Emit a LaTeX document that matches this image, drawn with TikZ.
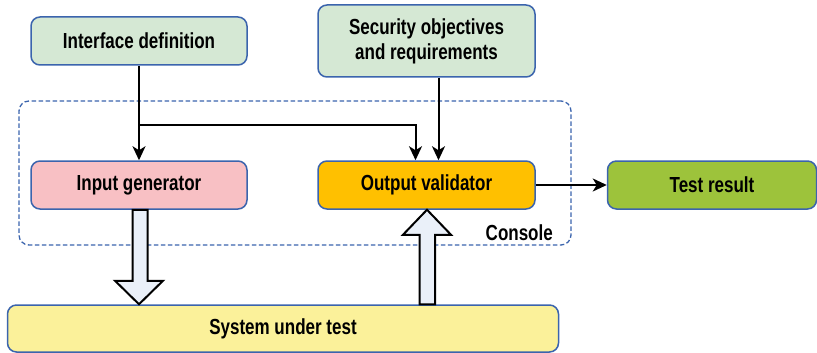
\documentclass[tikz,border=0pt]{standalone}
\usepackage{fontspec}
\setmainfont[FakeStretch=0.78]{Liberation Sans}
\usetikzlibrary{arrows.meta,calc}
\definecolor{bblue}{HTML}{3B64AD}
\definecolor{lgreen}{HTML}{D5E8D4}
\definecolor{lpink}{HTML}{F8C0C4}
\definecolor{orng}{HTML}{FFC000}
\definecolor{dgreen}{HTML}{9DC33B}
\definecolor{lyel}{HTML}{FBF19A}
\definecolor{hfill}{HTML}{EAF0F9}
\tikzset{
  txt/.style={font=\fontsize{21.8}{25}\selectfont\bfseries},
  box/.style={draw=bblue, line width=1.5pt, rounded corners=9pt, align=center,
    txt, inner sep=0pt},
  conn/.style={line width=2pt, -{Stealth[length=14pt,width=13pt,inset=4pt]}},
  hollow/.style={draw=black, line width=2pt, fill=hfill, line join=miter},
  consolebox/.style={draw=bblue, line width=1.3pt, dash pattern=on 4.5pt off 2.5pt, rounded corners=10pt}
}
\begin{document}
\begin{tikzpicture}[x=1pt,y=-1pt]
\useasboundingbox (0,0) rectangle (817,353);
\node[consolebox, minimum width=552pt, minimum height=144pt] (con) at (295,173) {};
\node[anchor=south east, txt, inner sep=0pt] (conlbl) at (553,241) {Console};
\node[box, fill=lgreen, minimum width=216pt, minimum height=48pt] (idf) at (139,41) {Interface definition};
\node[box, fill=lgreen, minimum width=217pt, minimum height=72pt] (sec) at (426.5,41) {Security objectives\\and requirements};
\node[box, fill=lpink, minimum width=216pt, minimum height=48pt] (ig) at (139,185) {Input generator};
\node[box, fill=orng, minimum width=217pt, minimum height=48pt] (ov) at (426.5,185) {Output validator};
\node[box, fill=dgreen, minimum width=209pt, minimum height=48pt] (tr) at (712,185) {Test result};
\node[box, fill=lyel, minimum width=551pt, minimum height=47pt] (sut) at (283,328.5) {System under test};
\coordinate (br) at (idf.south |- 0,125);
\draw[conn] (idf.south) -- (ig.north);
\draw[conn] (br) -| ([xshift=-11pt]ov.north);
\draw[conn] ([xshift=12pt]sec.south) -- ([xshift=12pt]ov.north);
\draw[conn] (ov.east) -- (tr.west);
% hollow down arrow
\draw[hollow] ($(ig.south)+(-6.5,0)$) -- ($(ig.south)+(-6.5,71)$) -- ($(ig.south)+(-24,71)$)
  -- (ig.south |- sut.north) -- ($(ig.south)+(24,71)$) -- ($(ig.south)+(8.5,71)$) -- ($(ig.south)+(8.5,0)$) -- cycle;
% hollow up arrow
\coordinate (up) at ([xshift=0.5pt]ov.south);
\draw[hollow] (up) -- ($(up)+(24,25)$) -- ($(up)+(8,25)$) -- ($(up |- sut.north)+(8,0)$)
  -- ($(up |- sut.north)+(-7.5,0)$) -- ($(up)+(-7.5,25)$) -- ($(up)+(-24,25)$) -- cycle;
\end{tikzpicture}
\end{document}
